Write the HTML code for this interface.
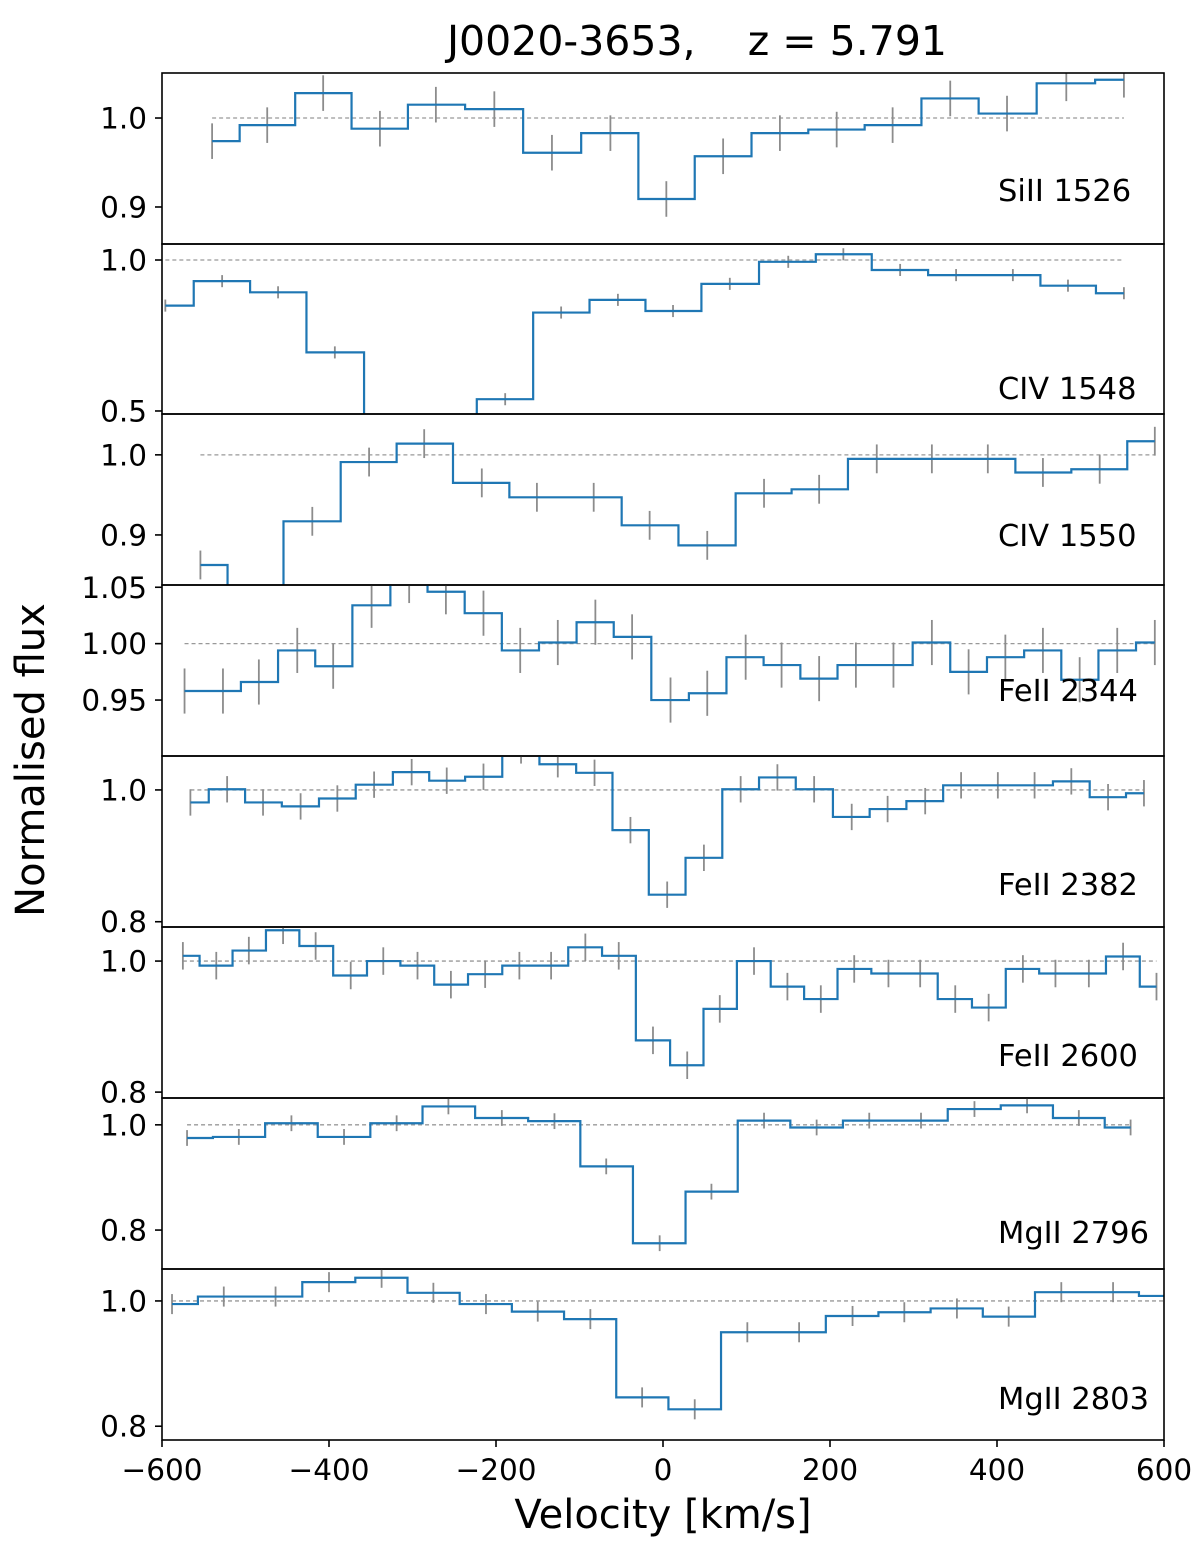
<!DOCTYPE html>
<html><head><meta charset="utf-8">
<style>
html,body{margin:0;padding:0;background:#fff;}
svg{display:block;font-family:"DejaVu Sans","Liberation Sans",sans-serif;}
</style></head>
<body>
<svg id="chart" width="1200" height="1549" viewBox="0 0 1200 1549" xmlns="http://www.w3.org/2000/svg">
<text x="697" y="55" font-size="41" text-anchor="middle" style="white-space:pre">J0020-3653,    z = 5.791</text>
<text transform="translate(44,760) rotate(-90)" font-size="40" text-anchor="middle">Normalised flux</text>
<text x="663" y="1528" font-size="40" text-anchor="middle">Velocity [km/s]</text>
<g id="panels"></g>
</svg>
<script>
const xTicks = [-600,-400,-200,0,200,400,600];
const names = ["SiII 1526","CIV 1548","CIV 1550","FeII 2344","FeII 2382","FeII 2600","MgII 2796","MgII 2803"];
const labelY = [190,388,535,690,884,1055,1232,1398];
const panelTop = [73,244,414,585,756,927,1098,1269];
const panelBot = [244,414,585,756,927,1098,1269,1440];
const yMax = [1.0506,1.053,1.051,1.052,1.0515,1.052,1.051,1.051];
const yMin = [0.8584,0.49,0.8375,0.9004,0.792,0.791,0.726,0.778];
const yTicks = [[0.9,1.0],[0.5,1.0],[0.9,1.0],[0.95,1.0,1.05],[0.8,1.0],[0.8,1.0],[0.8,1.0],[0.8,1.0]];
const yTickLabels = [["0.9","1.0"],["0.5","1.0"],["0.9","1.0"],["0.95","1.00","1.05"],["0.8","1.0"],["0.8","1.0"],["0.8","1.0"],["0.8","1.0"]];
const errs = [0.02,0.02,0.018,0.02,0.02,0.021,0.015,0.016];

const vel0 = [-540,-474,-407,-339,-272,-202,-133,-63,4,72,140,208,275,344,412,483,552];
const flux0 = [0.974,0.992,1.028,0.988,1.015,1.010,0.961,0.983,0.909,0.957,0.983,0.987,0.992,1.022,1.005,1.039,1.043];
const vel1 = [-596,-528,-461,-393,-323,-257,-189,-122,-54,12,80,150,216,284,351,419,485,552];
const flux1 = [0.849,0.930,0.893,0.694,0.46,0.44,0.539,0.826,0.868,0.831,0.921,0.994,1.019,0.967,0.950,0.950,0.915,0.890];
const vel2 = [-554,-489,-420,-352,-286,-217,-151,-83,-16,53,121,187,256,322,389,455,523,589];
const flux2 = [0.8625,0.82,0.917,0.991,1.014,0.965,0.947,0.947,0.912,0.887,0.952,0.957,0.995,0.995,0.995,0.978,0.982,1.017];
const vel3 = [-573,-527,-484,-438,-395,-349,-304,-260,-215,-171,-126,-81,-37,9,53,99,142,187,231,276,322,366,410,455,499,544,589];
const flux3 = [0.958,0.958,0.966,0.994,0.980,1.034,1.056,1.046,1.027,0.994,1.001,1.019,1.006,0.950,0.956,0.988,0.981,0.969,0.981,0.981,1.001,0.975,0.988,0.994,0.968,0.994,1.001];
const vel4 = [-566,-522,-479,-434,-390,-346,-301,-259,-215,-170,-126,-82,-39,5,49,93,137,181,226,269,314,357,401,445,489,533,576];
const flux4 = [0.981,1.001,0.981,0.975,0.987,1.008,1.027,1.014,1.020,1.06,1.039,1.026,0.939,0.841,0.897,1.001,1.019,1.001,0.959,0.971,0.983,1.007,1.007,1.007,1.013,0.989,0.995];
const vel5 = [-575,-535,-496,-455,-416,-374,-335,-294,-254,-213,-172,-134,-93,-53,-12,29,68,109,149,189,229,270,308,350,390,431,470,510,551,591];
const flux5 = [1.008,0.993,1.016,1.047,1.023,0.978,1.0,0.993,0.964,0.980,0.993,0.993,1.021,1.008,0.879,0.841,0.927,1.0,0.961,0.942,0.988,0.981,0.981,0.942,0.929,0.988,0.981,0.981,1.007,0.961];
const vel6 = [-570,-508,-445,-382,-319,-257,-193,-130,-68,-4,58,121,184,247,309,373,436,498,560];
const flux6 = [0.975,0.977,1.003,0.977,1.003,1.035,1.013,1.007,0.921,0.775,0.873,1.008,0.995,1.008,1.008,1.030,1.037,1.013,0.995];
const vel7 = [-588,-526,-464,-400,-337,-275,-212,-150,-87,-25,38,101,163,227,289,352,414,477,539,601];
const flux7 = [0.995,1.007,1.007,1.030,1.037,1.013,0.995,0.983,0.971,0.846,0.827,0.950,0.950,0.976,0.982,0.988,0.975,1.014,1.014,1.008];

const vels = [vel0,vel1,vel2,vel3,vel4,vel5,vel6,vel7];
const fluxes = [flux0,flux1,flux2,flux3,flux4,flux5,flux6,flux7];

const NS = "http://www.w3.org/2000/svg";
const X0 = 162, X1 = 1164, VMIN = -600, VMAX = 600;
function xs(v){ return X0 + (v - VMIN) / (VMAX - VMIN) * (X1 - X0); }
function mk(tag, attrs, parent){ const e = document.createElementNS(NS, tag); for (const k in attrs) e.setAttribute(k, attrs[k]); parent.appendChild(e); return e; }
const root = document.getElementById('panels');
const defs = mk('defs', {}, root);

for (let p = 0; p < 8; p++) {
  const top = panelTop[p], bot = panelBot[p];
  const ys = f => bot - (f - yMin[p]) / (yMax[p] - yMin[p]) * (bot - top);
  const g = mk('g', {}, root);
  
  
  const cp = mk('clipPath', {id: 'cp' + p}, defs);
  mk('rect', {x: X0, y: top, width: X1 - X0, height: bot - top}, cp);
  const inner = mk('g', {'clip-path': 'url(#cp' + p + ')'}, g);
  const v = vels[p], f = fluxes[p];
  const cont = mk('line', {x1: xs(v[0]), x2: xs(v[v.length-1]), y1: ys(1), y2: ys(1), stroke: '#999', 'stroke-width': 1.3, 'stroke-dasharray': '4,3'}, inner);
  
  
  for (let i = 0; i < v.length; i++) {
    const eb = mk('line', {x1: xs(v[i]), x2: xs(v[i]), y1: ys(f[i] - errs[p]), y2: ys(f[i] + errs[p]), stroke: '#8c8c8c', 'stroke-width': 1.8}, inner);
    
    
  }
  let d = '';
  for (let i = 0; i < v.length; i++) {
    const left = i === 0 ? v[0] : (v[i-1] + v[i]) / 2;
    const right = i === v.length - 1 ? v[i] : (v[i] + v[i+1]) / 2;
    d += (i === 0 ? 'M' : 'L') + xs(left) + ',' + ys(f[i]) + 'L' + xs(right) + ',' + ys(f[i]);
  }
  const sp = mk('path', {d: d, fill: 'none', stroke: '#1f77b4', 'stroke-width': 2.2}, inner);
  
  
  const fr = mk('rect', {x: X0, y: top, width: X1 - X0, height: bot - top, fill: 'none', stroke: '#000', 'stroke-width': 1.6}, g);
  
  
  for (let t = 0; t < yTicks[p].length; t++) {
    const y = ys(yTicks[p][t]);
    const tk = mk('line', {x1: X0 - 7, x2: X0, y1: y, y2: y, stroke: '#000', 'stroke-width': 1.6}, g);
    
    
    const tl = mk('text', {x: X0 - 15, y: y + 10.5, 'font-size': 29.5, 'text-anchor': 'end'}, g);
    tl.textContent = yTickLabels[p][t];
    
    
  }
  const lb = mk('text', {x: 998, y: labelY[p] + 11, 'font-size': 30.5}, g);
  lb.textContent = names[p];
  
  
}
for (let t = 0; t < xTicks.length; t++) {
  const x = xs(xTicks[t]);
  const tk = mk('line', {x1: x, x2: x, y1: 1440, y2: 1447, stroke: '#000', 'stroke-width': 1.6}, root);
  
  
  const tl = mk('text', {x: x, y: 1480, 'font-size': 29.5, 'text-anchor': 'middle'}, root);
  tl.textContent = (xTicks[t] < 0 ? '\u2212' + (-xTicks[t]) : String(xTicks[t]));
  
  
}
</script>
</body></html>
